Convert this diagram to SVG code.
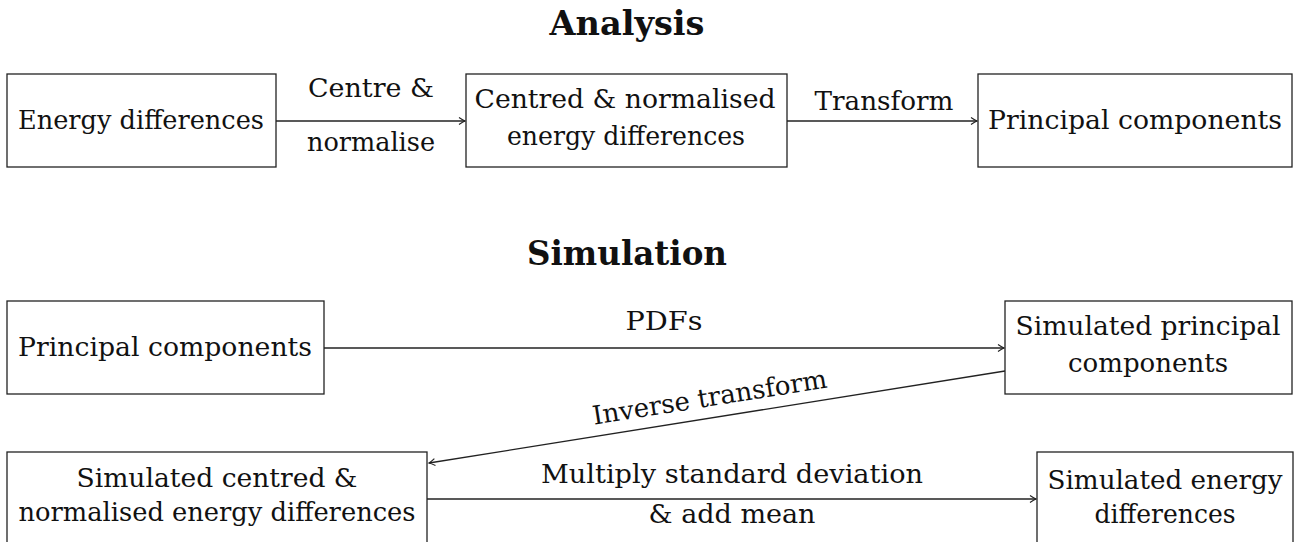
<svg xmlns="http://www.w3.org/2000/svg" width="1299" height="542" viewBox="0 0 1299 542">
<style>
  .box { fill: #ffffff; stroke: #222222; stroke-width: 1.3; }
  .t { font-family: "DejaVu Serif", "Liberation Serif", serif; font-size: 26px; fill: #111111; text-anchor: middle; }
  .h { font-family: "DejaVu Serif", "Liberation Serif", serif; font-size: 33px; font-weight: bold; fill: #111111; text-anchor: middle; }
  .edge { fill: none; stroke: #222222; stroke-width: 1.3; marker-end: url(#arr); }
</style>
<defs>
  <marker id="arr" viewBox="-8 -5 10 10" refX="0" refY="0" markerWidth="10" markerHeight="10" markerUnits="userSpaceOnUse" orient="auto">
    <path d="M -6 -3.5 Q -2 -0.8 0 0 Q -2 0.8 -6 3.5" fill="none" stroke="#222222" stroke-width="1.2"/>
  </marker>
</defs>
<rect width="1299" height="542" fill="#ffffff"/>

<text id="title-analysis" class="h" x="627" y="35" textLength="155" lengthAdjust="spacingAndGlyphs">Analysis</text>
<text id="title-simulation" class="h" x="627" y="265" textLength="200" lengthAdjust="spacingAndGlyphs">Simulation</text>

<g id="connectors">
  <line class="edge" x1="276" y1="121" x2="465" y2="121"/>
  <line class="edge" x1="787" y1="121" x2="977" y2="121"/>
  <line class="edge" x1="324" y1="348" x2="1004" y2="348"/>
  <line class="edge" x1="1005" y1="371" x2="429" y2="463"/>
  <line class="edge" x1="427" y1="499" x2="1036" y2="499"/>
  <text class="t" x="371" y="97" textLength="126" lengthAdjust="spacingAndGlyphs">Centre &amp;</text>
  <text class="t" x="371" y="151" textLength="128" lengthAdjust="spacingAndGlyphs">normalise</text>
  <text class="t" x="884" y="110" textLength="139" lengthAdjust="spacingAndGlyphs">Transform</text>
  <text class="t" x="664" y="330" textLength="77" lengthAdjust="spacingAndGlyphs">PDFs</text>
  <text class="t" x="711" y="406" transform="rotate(-9.06 711 406)" textLength="237" lengthAdjust="spacingAndGlyphs">Inverse transform</text>
  <text class="t" x="732" y="483" textLength="382" lengthAdjust="spacingAndGlyphs">Multiply standard deviation</text>
  <text class="t" x="732" y="523" textLength="167" lengthAdjust="spacingAndGlyphs">&amp; add mean</text>
</g>

<g id="n-energy">
  <rect class="box" x="7" y="74" width="269" height="93"/>
  <text class="t" x="141" y="129" textLength="246" lengthAdjust="spacingAndGlyphs">Energy differences</text>
</g>
<g id="n-centred">
  <rect class="box" x="466" y="74" width="321" height="93"/>
  <text class="t" x="625" y="108" textLength="301" lengthAdjust="spacingAndGlyphs">Centred &amp; normalised</text>
  <text class="t" x="626" y="145" textLength="238" lengthAdjust="spacingAndGlyphs">energy differences</text>
</g>
<g id="n-pc">
  <rect class="box" x="978" y="74" width="314" height="93"/>
  <text class="t" x="1135" y="129" textLength="294" lengthAdjust="spacingAndGlyphs">Principal components</text>
</g>

<g id="n-pc2">
  <rect class="box" x="7" y="301" width="317" height="93"/>
  <text class="t" x="165" y="356" textLength="294" lengthAdjust="spacingAndGlyphs">Principal components</text>
</g>
<g id="n-simpc">
  <rect class="box" x="1005" y="301" width="287" height="93"/>
  <text class="t" x="1148" y="335" textLength="265" lengthAdjust="spacingAndGlyphs">Simulated principal</text>
  <text class="t" x="1148" y="372" textLength="160" lengthAdjust="spacingAndGlyphs">components</text>
</g>
<g id="n-simcentred">
  <rect class="box" x="7" y="452" width="420" height="100"/>
  <text class="t" x="217" y="487" textLength="281" lengthAdjust="spacingAndGlyphs">Simulated centred &amp;</text>
  <text class="t" x="217" y="521" textLength="397" lengthAdjust="spacingAndGlyphs">normalised energy differences</text>
</g>
<g id="n-simenergy">
  <rect class="box" x="1037" y="452" width="256" height="100"/>
  <text class="t" x="1165" y="489" textLength="235" lengthAdjust="spacingAndGlyphs">Simulated energy</text>
  <text class="t" x="1165" y="523" textLength="141" lengthAdjust="spacingAndGlyphs">differences</text>
</g>
</svg>
